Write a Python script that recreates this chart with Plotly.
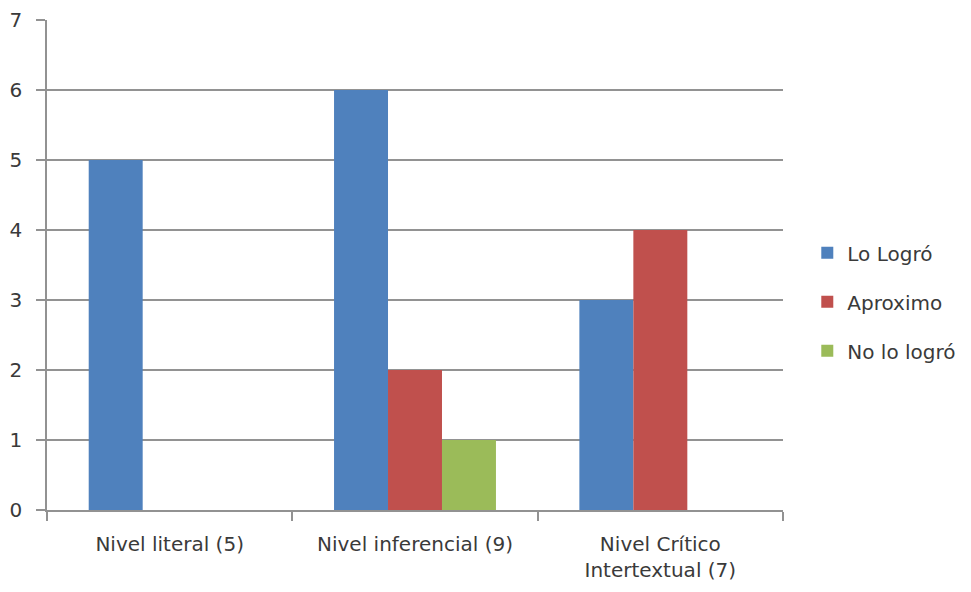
import plotly.graph_objects as go

categories = ["Nivel literal (5)", "Nivel inferencial (9)", "Nivel Crítico<br>Intertextual (7)"]
series_names = ["Lo Logró", "Aproximo", "No lo logró"]
lo_logro = [5, 6, 3]
aproximo = [0, 2, 4]
no_lo_logro = [0, 1, 0]
colors = ["#4F81BD", "#C0504D", "#9BBB59"]
y_ticks = [0, 1, 2, 3, 4, 5, 6, 7]

FONT = "DejaVu Sans"
GRID = "#929292"
TEXT = "#3a3a3a"

fig = go.Figure()
for name, vals, col in zip(series_names, [lo_logro, aproximo, no_lo_logro], colors):
    fig.add_trace(go.Bar(
        x=categories, y=vals, name=name, legendgroup=name,
        marker=dict(color=col, line=dict(width=0)),
    ))

fig.update_layout(
    width=971, height=592,
    margin=dict(l=47, r=188, t=20, b=82, autoexpand=False),
    paper_bgcolor="white", plot_bgcolor="white",
    barmode="group", bargap=0.34, bargroupgap=0,
    font=dict(family=FONT, size=20, color=TEXT),
    legend=dict(
        x=1.033, y=0.425, xanchor="left", yanchor="middle",
        font=dict(family=FONT, size=20, color=TEXT),
        tracegroupgap=20, itemwidth=30,
    ),
    showlegend=True,
)
fig.update_yaxes(
    range=[0, 7], tickvals=y_ticks, showgrid=True, gridcolor=GRID, gridwidth=1.5,
    showline=True, linecolor=GRID, linewidth=1.5,
    ticks="outside", ticklen=9, tickwidth=1.5, tickcolor=GRID, ticklabelstandoff=10,
    zeroline=False, automargin=False,
    tickfont=dict(family=FONT, size=20, color=TEXT),
)
fig.update_xaxes(
    showline=True, linecolor=GRID, linewidth=1.5,
    ticks="outside", ticklen=9, tickwidth=1.5, tickcolor=GRID, tickson="boundaries",
    ticklabelstandoff=15, automargin=False,
    tickfont=dict(family=FONT, size=20, color=TEXT),
)

fig.write_html("out.html")
